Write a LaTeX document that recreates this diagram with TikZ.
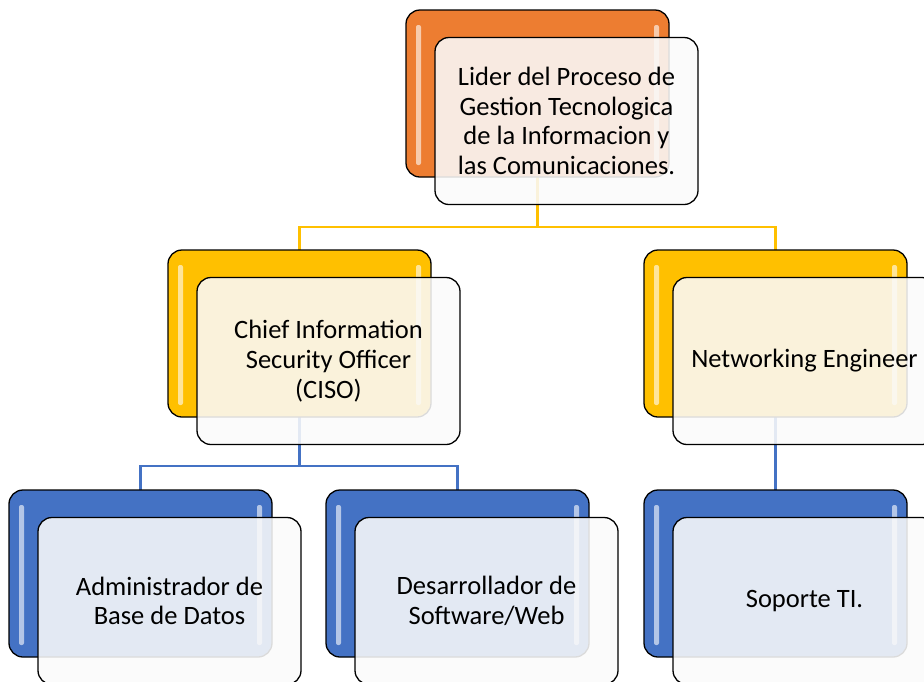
\documentclass[tikz,border=0pt]{standalone}
\usepackage{fontspec}
\setmainfont{Carlito}
\usetikzlibrary{positioning,backgrounds}
\definecolor{orangeacc}{HTML}{ED7D31}
\definecolor{goldacc}{HTML}{FFC000}
\definecolor{blueacc}{HTML}{4472C4}

\begin{document}
\begin{tikzpicture}[x=1pt,y=1pt,node distance=73pt]

  \tikzstyle{box}=[rectangle,rounded corners=14pt,draw=black,line width=1.3pt,
                   inner sep=0pt,outer sep=0pt,minimum width=263pt,minimum height=167pt]
  \tikzstyle{back}=[box,path picture={
      \fill [white,opacity=.6,rounded corners=2pt]
        ([xshift=10pt,yshift=-15pt]path picture bounding box.north west)
        rectangle ([xshift=15pt,yshift=12pt]path picture bounding box.south west);
      \fill [white,opacity=.6,rounded corners=2pt]
        ([xshift=-15pt,yshift=-15pt]path picture bounding box.north east)
        rectangle ([xshift=-10pt,yshift=12pt]path picture bounding box.south east);}]
  \tikzstyle{orange back}=[back,fill=orangeacc]
  \tikzstyle{gold back}=[back,fill=goldacc]
  \tikzstyle{blue back}=[back,fill=blueacc]
  \tikzstyle{front}=[box,fill=black!2,fill opacity=.88,text opacity=1,align=center,
                     font=\fontsize{26.5}{29.7}\selectfont,xshift=29pt,yshift=-27.5pt]
  \tikzstyle{gold line}=[draw=goldacc,line width=2.4pt]
  \tikzstyle{blue line}=[draw=blueacc,line width=2.4pt]

  \useasboundingbox (0,0) rectangle (924,-681);

  % back boxes
  \node [orange back] (lider) at (537.5,-93.5)                        {};
  \node [gold back]   (ciso)    [below left=73pt and -25pt of lider]  {};
  \node [gold back]   (ne)      [below right=73pt and -25pt of lider] {};
  \node [blue back]   (admin)   [below left=73pt and -104pt of ciso]  {};
  \node [blue back]   (dev)     [below right=73pt and -105pt of ciso] {};
  \node [blue back]   (soporte) [below of=ne,yshift=-167pt]          {};

  \coordinate [below=50pt of lider] (split1);
  \coordinate [below=49pt of ciso]  (split2);

  % front boxes
  \node [front] (lider')   at (lider)   {Lider del Proceso de\\Gestion Tecnologica\\de la Informacion y\\las Comunicaciones.};
  \node [front] (ciso')    at (ciso)    {Chief Information\\Security Officer\\(CISO)};
  \node [front] (ne')      at (ne)      {Networking Engineer};
  \node [front] (admin')   at (admin)   {Administrador de\\Base de Datos};
  \node [front] (dev')     at (dev)     {Desarrollador de\\Software/Web};
  \node [front] (soporte') at (soporte) {Soporte TI.};

  \begin{pgfonlayer}{background}
    \draw [gold line] (lider) -- (split1) -| (ciso);
    \draw [gold line] (split1) -| (ne);
    \draw [blue line] (ciso) -- (split2) -| (admin);
    \draw [blue line] (split2) -| (dev);
    \draw [blue line] (ne) -- (soporte);
  \end{pgfonlayer}
\end{tikzpicture}
\end{document}
